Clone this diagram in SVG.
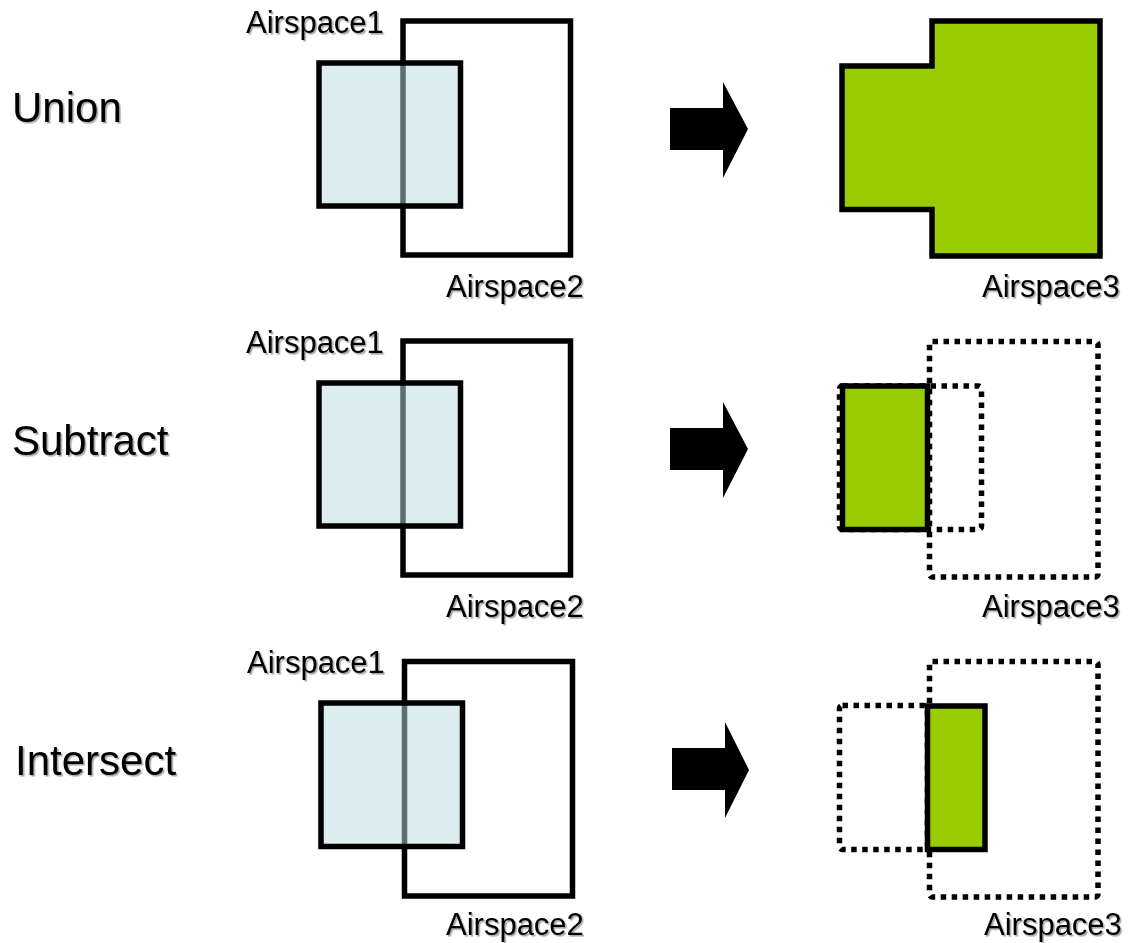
<svg xmlns="http://www.w3.org/2000/svg" width="1129" height="943" viewBox="0 0 1129 943">
  <defs>
    <filter id="txtShadow" x="-10%" y="-20%" width="130%" height="150%">
      <feDropShadow dx="1.6" dy="1.6" stdDeviation="0.7" flood-color="#000" flood-opacity="0.35"/>
    </filter>
  </defs>
  <style>
    text { font-family: "Liberation Sans", Arial, sans-serif; fill: #000; filter: url(#txtShadow); }
    .op { font-size: 42px; }
    .lbl { font-size: 31px; }
    .a1 { fill: #BCD9DF; fill-opacity: 0.5; stroke: #000; stroke-width: 5.5; }
    .a2 { fill: none; stroke: #000; stroke-width: 5.5; }
    .res { fill: #99CC00; stroke: #000; stroke-width: 5.5; }
    .ghost { fill: none; stroke: #000; stroke-width: 5.5; stroke-dasharray: 5.5 5.5; }
    .arrow { fill: #000; }
  </style>

  <rect width="1129" height="943" fill="#fff"/>

  <!-- operation names -->
  <g id="op-union"><text class="op" x="12" y="122">Union</text></g>
  <g id="op-subtract"><text class="op" x="12" y="455">Subtract</text></g>
  <g id="op-intersect"><text class="op" x="15" y="775">Intersect</text></g>

  <!-- Union: inputs -->
  <g id="union-airspace2">
    <rect class="a2" x="403" y="21" width="167.5" height="234"/>
    <text class="lbl" x="446" y="297">Airspace2</text>
  </g>
  <g id="union-airspace1">
    <rect class="a1" x="319" y="63" width="141.5" height="143"/>
    <text class="lbl" x="246" y="33">Airspace1</text>
  </g>
  <!-- Union: result -->
  <g id="union-airspace3">
    <path class="res" d="M842 66 H932 V21 H1100 V256 H932 V209.5 H842 Z"/>
    <text class="lbl" x="982" y="297">Airspace3</text>
  </g>

  <!-- Subtract: inputs -->
  <g id="subtract-airspace2">
    <rect class="a2" x="403" y="341" width="167.5" height="234"/>
    <text class="lbl" x="446" y="617">Airspace2</text>
  </g>
  <g id="subtract-airspace1">
    <rect class="a1" x="319" y="383" width="141.5" height="143"/>
    <text class="lbl" x="246" y="353">Airspace1</text>
  </g>
  <!-- Subtract: result -->
  <g id="subtract-airspace3">
    <rect class="ghost" x="929.5" y="341.5" width="168.5" height="235.5" rx="3"/>
    <rect class="ghost" x="839.5" y="386" width="142" height="143.5" rx="3"/>
    <rect class="res" x="842.5" y="386" width="85" height="143.5"/>
    <text class="lbl" x="982" y="617">Airspace3</text>
  </g>

  <!-- Intersect: inputs -->
  <g id="intersect-airspace2">
    <rect class="a2" x="404.5" y="661.5" width="168" height="234.5"/>
    <text class="lbl" x="446" y="935">Airspace2</text>
  </g>
  <g id="intersect-airspace1">
    <rect class="a1" x="321" y="703" width="141.5" height="143.5"/>
    <text class="lbl" x="247" y="673">Airspace1</text>
  </g>
  <!-- Intersect: result -->
  <g id="intersect-airspace3">
    <rect class="ghost" x="929.5" y="661.5" width="168.5" height="235.5" rx="3"/>
    <rect class="ghost" x="839.5" y="705.5" width="88" height="144" rx="3"/>
    <rect class="res" x="927.5" y="706" width="57.5" height="143.5"/>
    <text class="lbl" x="984" y="935">Airspace3</text>
  </g>

  <!-- block arrows between inputs and results -->
  <g id="connectors">
    <polygon class="arrow" points="670,108 723,108 723,82 748,129 723,178 723,150 670,150"/>
    <polygon class="arrow" points="670,428 723,428 723,402 748,449 723,498 723,470 670,470"/>
    <polygon class="arrow" points="672,748 725,748 725,722 749,770 725,818 725,790 672,790"/>
  </g>
</svg>
